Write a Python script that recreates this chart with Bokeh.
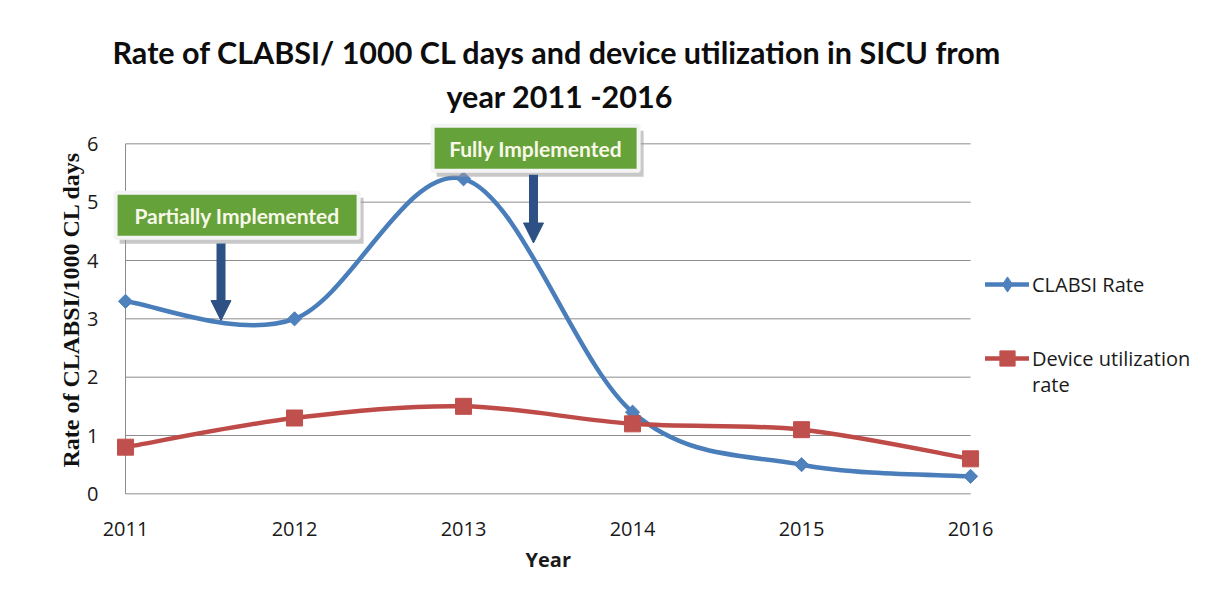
import math
from bokeh.plotting import figure
from bokeh.models import (Range1d, Title, Legend, LegendItem, Arrow, NormalHead,
                          FixedTicker, ColumnDataSource)
from bokeh.core.properties import value
from bokeh.embed import file_html
from bokeh.resources import INLINE

# ---------------- data ----------------
YEARS = [2011, 2012, 2013, 2014, 2015, 2016]
CLABSI_RATE = [3.3, 3.0, 5.4, 1.4, 0.5, 0.3]
DEVICE_UTIL = [0.8, 1.3, 1.5, 1.2, 1.1, 0.6]
Y_TICKS = [0, 1, 2, 3, 4, 5, 6]
SERIES_NAMES = ["CLABSI Rate", "Device utilization", "rate"]
TITLE_LINES = ["Rate of CLABSI/ 1000 CL days and device utilization in SICU from",
               "year 2011 -2016"]
X_LABEL = "Year"
Y_LABEL = "Rate of CLABSI/1000 CL days"
NOTES = ["Partially Implemented", "Fully Implemented"]

# ---------------- styles ----------------
BLUE = "#4A7EBB"
BLUE_M = "#4F81BD"
RED = "#BE4B48"
RED_M = "#C0504D"
GRID = "#8C8C8C"
GREEN = "#66A23A"
ARROW = "#2D5184"
TXT = "#1A1A1A"
FONT = "Open Sans"
TFONT = "Lato"


def smooth_segments(xs, ys):
    """Excel-like smoothed line: one cubic Bezier per segment (Catmull-Rom controls)."""
    n = len(xs)
    pts = list(zip(xs, ys))
    d = dict(x0=[], y0=[], x1=[], y1=[], cx0=[], cy0=[], cx1=[], cy1=[])
    for i in range(n - 1):
        p0 = pts[max(i - 1, 0)]
        p1 = pts[i]
        p2 = pts[i + 1]
        p3 = pts[min(i + 2, n - 1)]
        d["x0"].append(p1[0]); d["y0"].append(p1[1])
        d["x1"].append(p2[0]); d["y1"].append(p2[1])
        d["cx0"].append(p1[0] + (p2[0] - p0[0]) / 6.0)
        d["cy0"].append(p1[1] + (p2[1] - p0[1]) / 6.0)
        d["cx1"].append(p2[0] - (p3[0] - p1[0]) / 6.0)
        d["cy1"].append(p2[1] - (p3[1] - p1[1]) / 6.0)
    return ColumnDataSource(d)


# frame: 169 px per year, 58.33 px per unit; extends right to hold the legend
p = figure(width=1195, height=585,
           x_range=Range1d(2010.917, 2017.331), y_range=Range1d(-0.08, 6.4),
           output_backend="svg", toolbar_location=None,
           min_border_left=111, min_border_right=0,
           min_border_top=120, min_border_bottom=87)

p.grid.visible = False
p.outline_line_color = None
p.background_fill_color = "white"
p.border_fill_color = "white"

# axes
p.xaxis.ticker = FixedTicker(ticks=YEARS)
p.yaxis.ticker = FixedTicker(ticks=Y_TICKS)
for ax in (p.xaxis, p.yaxis):
    ax.axis_line_color = None
    ax.major_tick_line_color = None
    ax.minor_tick_line_color = None
    ax.major_label_text_font = FONT
    ax.major_label_text_font_size = "20px"
    ax.major_label_text_color = TXT
p.xaxis.major_label_standoff = 17
p.yaxis.major_label_standoff = 7
p.yaxis.axis_label = Y_LABEL
p.yaxis.axis_label_text_font = "Liberation Serif"
p.yaxis.axis_label_text_font_style = "bold"
p.yaxis.axis_label_text_font_size = "24px"
p.yaxis.axis_label_text_color = "#111111"
p.yaxis.axis_label_standoff = 0

# x-axis title placed under the data span
p.add_layout(Title(text=X_LABEL, align="left", offset=414, standoff=11,
                   text_font=FONT, text_font_style="bold",
                   text_font_size="20px", text_color=TXT), "below")

# gridlines and left axis line (only over the data span)
n = len(Y_TICKS)
p.segment(x0=[YEARS[0]] * n, x1=[YEARS[-1]] * n, y0=Y_TICKS, y1=Y_TICKS,
          line_color=GRID, line_width=1)
p.segment(x0=[YEARS[0]], x1=[YEARS[0]], y0=[Y_TICKS[0]], y1=[Y_TICKS[-1]],
          line_color=GRID, line_width=1)

# series
b1 = p.bezier(x0="x0", y0="y0", x1="x1", y1="y1", cx0="cx0", cy0="cy0",
              cx1="cx1", cy1="cy1", source=smooth_segments(YEARS, CLABSI_RATE),
              line_color=BLUE, line_width=4.5, line_cap="round")
b2 = p.bezier(x0="x0", y0="y0", x1="x1", y1="y1", cx0="cx0", cy0="cy0",
              cx1="cx1", cy1="cy1", source=smooth_segments(YEARS, DEVICE_UTIL),
              line_color=RED, line_width=4.5, line_cap="round")
# diamond key for the legend (drawn tiny, hidden beneath the visible markers)
key_diamond = p.scatter(YEARS, CLABSI_RATE, marker="diamond", size=1,
                        fill_color=BLUE_M, line_color=BLUE_M)
s1 = p.scatter(YEARS, CLABSI_RATE, marker="square", angle=math.pi / 4, size=10,
               fill_color=BLUE_M, line_color=BLUE_M)
s2 = p.scatter(YEARS, DEVICE_UTIL, marker="square", size=16,
               fill_color=RED_M, line_color=RED_M)
# empty renderer used only for the wrapped second legend line
blank = p.scatter(x=[], y=[], fill_alpha=0, line_alpha=0)

# annotation boxes
px = 1 / 169.0
py = 1 / 58.33
boxes = [(2010.941, 2012.379, 5.16, 4.39), (2012.817, 2014.036, 6.31, 5.54)]
for (l, r, t, b), note in zip(boxes, NOTES):
    p.quad(left=l + 4 * px, right=r + 5 * px, top=t - 5 * py, bottom=b - 6 * py,
           fill_color="#9A9A9A", fill_alpha=0.55, line_color=None)
    p.quad(left=l, right=r, top=t, bottom=b, fill_color=GREEN,
           line_color="#F4F4F4", line_width=4)
    p.text(x=[(l + r) / 2], y=[(t + b) / 2], text=[note],
           text_font=value(TFONT), text_font_style="bold", text_font_size="21px",
           text_color="#F8F8E8", text_align="center", text_baseline="middle")

arrows = [(2011.565, 4.29, 2.97), (2013.414, 5.47, 4.30)]
for xa, ys, ye in arrows:
    p.add_layout(Arrow(end=NormalHead(size=20, fill_color=ARROW, line_color=ARROW),
                       x_start=xa, y_start=ys, x_end=xa, y_end=ye,
                       line_color=ARROW, line_width=9))

# legends (three single-row legends so the wrapped label keeps Excel spacing)
common = dict(orientation="vertical", glyph_width=44, glyph_height=38,
              label_standoff=3, padding=0, margin=0, border_line_color=None,
              background_fill_alpha=0, label_text_font=FONT, spacing=0,
              label_text_font_size="20px", label_text_color=TXT)
leg1 = Legend(items=[LegendItem(label=SERIES_NAMES[0], renderers=[b1, key_diamond])],
              location=(874, 195), **common)
leg2 = Legend(items=[LegendItem(label=SERIES_NAMES[1], renderers=[b2, s2])],
              location=(874, 121), **common)
leg3 = Legend(items=[LegendItem(label=SERIES_NAMES[2], renderers=[blank])],
              location=(874, 95), **common)
for lg in (leg1, leg2, leg3):
    p.add_layout(lg, "center")

# title (two lines, nearest-to-frame first)
for line, so, off in ((TITLE_LINES[1], 13, 335), (TITLE_LINES[0], 0, 1)):
    p.add_layout(Title(text=line, align="left", offset=off, standoff=so,
                       text_font=TFONT, text_font_style="bold",
                       text_font_size="30.5px", text_color="#0D0D0D"), "above")

open("out.html", "w").write(file_html(p, INLINE))
